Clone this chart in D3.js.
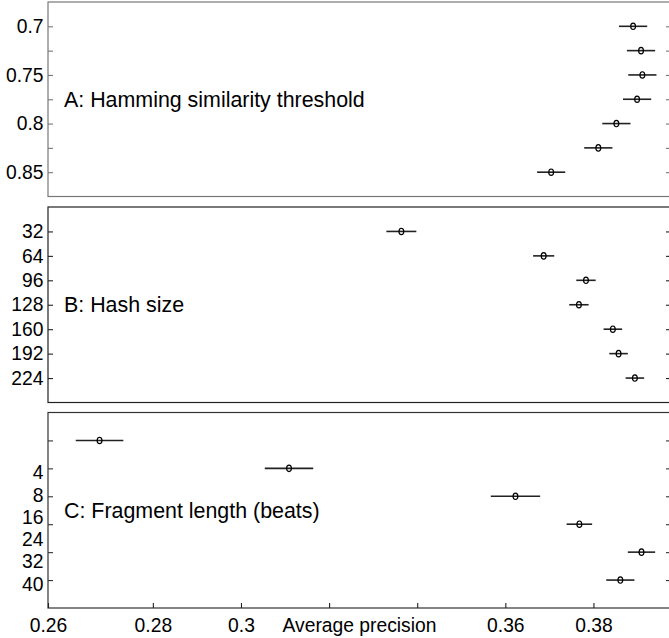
<!DOCTYPE html>
<html>
<head>
<meta charset="utf-8">
<script src="https://cdn.jsdelivr.net/npm/d3@7"></script>
<style>
    body { margin: 0; background: white; }
    svg text { font-family: "Liberation Sans", Arial, sans-serif; }
</style>
</head>
<body>
<div id="main"></div>
<script>
// panel A: hamming similarity threshold
const thresholds = [0.7, 0.725, 0.75, 0.775, 0.8, 0.825, 0.85]
const thresholdLabels = ["0.7", "", "0.75", "", "0.8", "", "0.85"]
const thresholdMean = [0.3890, 0.3908, 0.3911, 0.3899, 0.3852, 0.3811, 0.3704]
const thresholdHalf = [0.0032, 0.0032, 0.0032, 0.0032, 0.0032, 0.0032, 0.0032]

// panel B: hash size
const hashSizes = ["32", "64", "96", "128", "160", "192", "224"]
const hashMean = [0.3364, 0.3687, 0.3783, 0.3767, 0.3844, 0.3857, 0.3894]
const hashHalf = [0.0034, 0.0024, 0.0022, 0.0022, 0.0021, 0.0021, 0.0021]

// panel C: fragment length (the labels sit as one stacked block in the original)
const fragRows = [0, 1, 2, 3, 4, 5]
const fragLabels = ["4", "8", "16", "24", "32", "40"]
const fragMean = [0.2679, 0.3109, 0.3623, 0.3768, 0.3909, 0.3861]
const fragHalf = [0.0054, 0.0055, 0.0056, 0.0029, 0.0031, 0.0032]

// x axis
const xTicks = [0.28, 0.3, 0.32, 0.34, 0.36, 0.38]
const xHidden = [0.32, 0.34]
const xTitle = "Average precision"

const ctx = {
    w: 669,
    h: 638,
    left: 48,
    right: 671,
    xDomain: [0.2562, 0.3976],
    fontSize: 19.3,
    titleSize: 21.4
}

function createViz() {
    let svgEl = d3.select('#main').append('svg')
    svgEl.attr('width', ctx.w)
    svgEl.attr('height', ctx.h)

    let xScale = d3.scaleLinear().domain(ctx.xDomain).range([ctx.left, ctx.right])

    let panels = [
        {
            top: 2, bottom: 196.5, color: "#777",
            title: "A: Hamming similarity threshold",
            rows: thresholds, labels: thresholdLabels, mean: thresholdMean, half: thresholdHalf
        },
        {
            top: 207, bottom: 402.5, color: "#222",
            title: "B: Hash size",
            rows: hashSizes, labels: hashSizes, mean: hashMean, half: hashHalf
        },
        {
            top: 412.5, bottom: 608, color: "#333",
            title: "C: Fragment length (beats)",
            rows: fragRows, labels: null, mean: fragMean, half: fragHalf
        }
    ]

    panels.forEach(p => drawPanel(svgEl, p, xScale))
    drawFragLabels(svgEl, panels[2])
    drawXAxis(svgEl, panels[2], xScale)
}

function drawPanel(svg, p, xScale) {
    let g = svg.append('g')
    let yScale = d3.scalePoint().domain(p.rows).range([p.top, p.bottom]).padding(1)
    p.yScale = yScale

    // frame
    g.append('rect')
        .attr('x', ctx.left)
        .attr('y', p.top)
        .attr('width', ctx.right - ctx.left)
        .attr('height', p.bottom - p.top)
        .attr('fill', 'none')
        .attr('stroke', p.color)
        .attr('stroke-width', 1.2)

    // left ticks (inward)
    let yAxis = d3.axisLeft(yScale)
        .tickSizeInner(-5)
        .tickSizeOuter(0)
        .tickPadding(4.5)
        .tickFormat((d, i) => p.labels ? p.labels[i] : "")
    let ax = g.append('g').attr('transform', `translate(${ctx.left},0)`).call(yAxis)
    ax.select('.domain').remove()
    ax.selectAll('line').attr('stroke', p.color).attr('stroke-width', 1.1)
    ax.selectAll('text')
        .attr('font-size', ctx.fontSize)
        .attr('font-family', '"Liberation Sans", Arial, sans-serif')
        .attr('fill', '#000')

    // right ticks
    let yAxisR = d3.axisRight(yScale).tickSizeInner(-5).tickSizeOuter(0).tickFormat("")
    let axR = g.append('g').attr('transform', `translate(${ctx.right},0)`).call(yAxisR)
    axR.select('.domain').remove()
    axR.selectAll('line').attr('stroke', p.color).attr('stroke-width', 1.1)

    // title in the middle of the panel
    g.append('text')
        .attr('x', ctx.left + 16)
        .attr('y', (p.top + p.bottom) / 2)
        .attr('dy', '0.35em')
        .attr('font-size', ctx.titleSize)
        .attr('fill', '#000')
        .text(p.title)

    let data = p.rows.map((r, i) => ({ row: r, mean: p.mean[i], half: p.half[i] }))

    g.selectAll('line.err')
        .data(data)
        .join('line')
        .attr('class', 'err')
        .attr('x1', d => xScale(d.mean - d.half))
        .attr('x2', d => xScale(d.mean + d.half))
        .attr('y1', d => yScale(d.row))
        .attr('y2', d => yScale(d.row))
        .attr('stroke', '#222')
        .attr('stroke-width', 1.6)

    g.selectAll('ellipse')
        .data(data)
        .join('ellipse')
        .attr('cx', d => xScale(d.mean))
        .attr('cy', d => yScale(d.row))
        .attr('rx', 2.4)
        .attr('ry', 3.2)
        .attr('fill', 'none')
        .attr('stroke', '#000')
        .attr('stroke-width', 1.2)
}

function drawFragLabels(svg, p) {
    // stacked block of labels, running from the 2nd row down to the last one
    let y0 = p.yScale(fragRows[1])
    let y1 = p.yScale(fragRows[fragRows.length - 1])
    let mid = (y0 + y1) / 2 + 4
    let lineH = 22.3
    svg.append('g')
        .selectAll('text')
        .data(fragLabels)
        .join('text')
        .attr('x', ctx.left - 4.5)
        .attr('y', (d, i) => mid + (i - (fragLabels.length - 1) / 2) * lineH)
        .attr('dy', '0.35em')
        .attr('text-anchor', 'end')
        .attr('font-size', ctx.fontSize)
        .attr('fill', '#000')
        .text(d => d)
}

function drawXAxis(svg, p, xScale) {
    let fmt = d3.format(".2~f")
    let xAxis = d3.axisBottom(xScale)
        .tickValues([ctx.xDomain[0]].concat(xTicks))
        .tickSizeInner(-5)
        .tickSizeOuter(0)
        .tickPadding(10.5)
        .tickFormat(d => xHidden.includes(d) ? "" : fmt(d))
    let ax = svg.append('g').attr('transform', `translate(0,${p.bottom})`).call(xAxis)
    ax.select('.domain').remove()
    ax.selectAll('line').attr('stroke', '#222').attr('stroke-width', 1.1)
    ax.selectAll('text')
        .attr('font-size', ctx.fontSize)
        .attr('font-family', '"Liberation Sans", Arial, sans-serif')
        .attr('fill', '#000')

    svg.append('text')
        .attr('x', (ctx.left + ctx.right) / 2)
        .attr('y', p.bottom + 10.5)
        .attr('dy', '0.71em')
        .attr('text-anchor', 'middle')
        .attr('font-size', ctx.fontSize)
        .attr('fill', '#000')
        .text(xTitle)
}

createViz()
</script>
</body>
</html>
